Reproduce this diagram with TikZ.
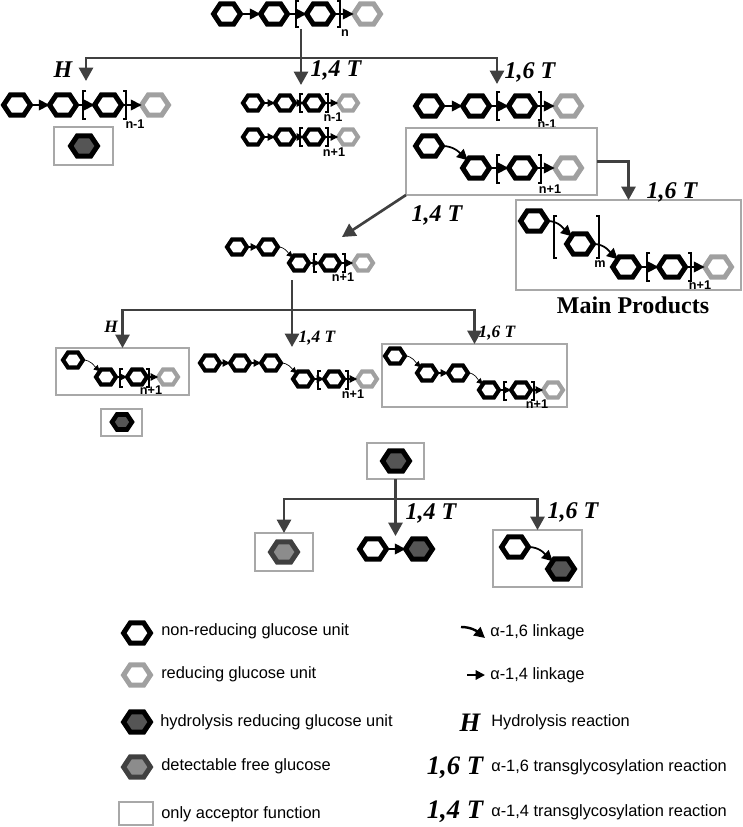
\documentclass[tikz,border=0pt]{standalone}
\usepackage{fontspec}
\setmainfont{Liberation Serif}
\setsansfont{Liberation Sans}
\usetikzlibrary{shapes.geometric,arrows.meta,fit}
\definecolor{boxgray}{HTML}{A8A8A8}
\definecolor{redgray}{HTML}{A0A0A0}
\definecolor{arrowgray}{HTML}{404040}
\definecolor{hydrofill}{HTML}{555555}
\definecolor{freefill}{HTML}{8C8C8C}
\tikzset{
  hexa/.style={regular polygon,regular polygon sides=6,transform shape,xscale=1.15,inner sep=0pt,outer sep=0pt},
  hexbig/.style={hexa,minimum size=17.5pt,line width=3.75pt},
  hexsmall/.style={hexa,minimum size=13pt,line width=3.1pt},
  glc/.style={hexbig,draw=black,fill=white},
  rglc/.style={hexbig,draw=redgray,fill=white},
  hglc/.style={hexbig,draw=black,fill=hydrofill},
  fglc/.style={hexbig,draw=arrowgray,fill=freefill},
  glcs/.style={hexsmall,draw=black,fill=white},
  rglcs/.style={hexsmall,draw=redgray,fill=white},
  link/.style={-{Triangle[length=8pt,width=8pt]},line width=1pt,black},
  links/.style={-{Triangle[length=5.5pt,width=5.5pt]},line width=.8pt,black},
  curl/.style={-{Triangle[length=8pt,width=8pt]},line width=1.3pt,black},
  curls/.style={-{Triangle[length=4.5pt,width=4.5pt]},line width=.5pt,black},
  brk/.style={line width=1.4pt,black},
  react/.style={-{Triangle[length=10pt,width=10.5pt]},line width=2pt,arrowgray},
  acc/.style={draw=boxgray,line width=2.2pt,inner sep=0pt,outer sep=0pt},
  rate/.style={font=\fontsize{18}{20}\bfseries\itshape\selectfont,inner sep=0pt},
  rates/.style={font=\fontsize{13}{15}\bfseries\itshape\selectfont,inner sep=0pt},
  ratel/.style={font=\fontsize{20}{22}\bfseries\itshape\selectfont,inner sep=0pt},
  idx/.style={font=\fontsize{9.5}{10}\sffamily\bfseries\selectfont,inner sep=0pt},
  leg/.style={font=\fontsize{12.3}{14}\sffamily\selectfont,anchor=west,inner sep=0pt}
}
\newcommand{\brkpair}[4]{
  \draw[brk] (#1+3,#3-#4) -- (#1,#3-#4) -- (#1,#3+#4) -- (#1+3,#3+#4);
  \draw[brk] (#2-3,#3-#4) -- (#2,#3-#4) -- (#2,#3+#4) -- (#2-3,#3+#4);
}
\begin{document}
\begin{tikzpicture}[x=0.75pt,y=-0.75pt]
  \useasboundingbox (0,0) rectangle (742,827);
  % start chain
  \node[glc] (t1) at (227,14) {};
  \node[glc] (t2) at (274,14) {};
  \node[glc] (t3) at (320,14) {};
  \node[rglc] (t4) at (367,14) {};
  \draw[link] (t1) -- (t2);
  \draw[link] (t2) -- (t3);
  \draw[link] (t3) -- (t4);
  \brkpair{296}{340}{14}{13}
  \node[idx] (tn) at (345,33) {n};
  \coordinate (tout) at (301,29);
  \coordinate (thub) at (301,58);
  \coordinate (tipH) at (86,81);
  \coordinate (tipA) at (301,85);
  \coordinate (tipB) at (497,84);
  \draw[react] (tout) -- (tipA);
  \draw[react] (thub) -| (tipH);
  \draw[react] (thub) -| (tipB);
  \node[rate] (rH) at (63,70) {H};
  \node[rate] (rA) at (336,70) {1,4 T};
  \node[rate] (rB) at (530,72) {1,6 T};
  % hydrolysis branch
  \node[glc] (a1) at (17,105) {};
  \node[glc] (a2) at (63,105) {};
  \node[glc] (a3) at (108,105) {};
  \node[rglc] (a4) at (155,105) {};
  \draw[link] (a1) -- (a2);
  \draw[link] (a2) -- (a3);
  \draw[link] (a3) -- (a4);
  \brkpair{83}{126}{105}{14}
  \node[idx] (an) at (135,124) {n-1};
  \node[acc,fit={(54,127)(113,165)}] (abox) {};
  \node[hglc] (ah) at (84,146) {};
  % 1,4 branch
  \node[glcs] (b1) at (253,103) {};
  \node[glcs] (b2) at (285,103) {};
  \node[glcs] (b3) at (314,103) {};
  \node[rglcs] (b4) at (348,103) {};
  \draw[links] (b1) -- (b2);
  \draw[links] (b2) -- (b3);
  \draw[links] (b3) -- (b4);
  \brkpair{300}{328}{103}{9}
  \node[idx] (bn) at (333,117) {n-1};
  \node[glcs] (c1) at (253,137) {};
  \node[glcs] (c2) at (285,137) {};
  \node[glcs] (c3) at (314,137) {};
  \node[rglcs] (c4) at (348,137) {};
  \draw[links] (c1) -- (c2);
  \draw[links] (c2) -- (c3);
  \draw[links] (c3) -- (c4);
  \brkpair{300}{328}{137}{9}
  \node[idx] (cn) at (334,152) {n+1};
  % 1,6 branch
  \node[glc] (d1) at (429,106) {};
  \node[glc] (d2) at (476,106) {};
  \node[glc] (d3) at (522,106) {};
  \node[rglc] (d4) at (568,106) {};
  \draw[link] (d1) -- (d2);
  \draw[link] (d2) -- (d3);
  \draw[link] (d3) -- (d4);
  \brkpair{497}{541}{106}{14}
  \node[idx] (dn) at (547,124) {n-1};
  \node[acc,fill=white,fit={(406,128)(597,195)}] (ebox) {};
  \node[glc] (e1) at (429,146) {};
  \node[glc] (e2) at (476,168) {};
  \node[glc] (e3) at (522,168) {};
  \node[rglc] (e4) at (568,168) {};
  \draw[curl] (e1) to[out=0,in=135] (e2);
  \draw[link] (e2) -- (e3);
  \draw[link] (e3) -- (e4);
  \brkpair{497}{541}{169}{14}
  \node[idx] (en) at (550,189) {n+1};
  % main products
  \node[acc,fit={(516,200)(741,290)}] (fbox) {};
  \draw[react] (ebox.east) -| (fbox.north);
  \node[rate] (rC) at (672,192) {1,6 T};
  \node[glc] (f1) at (534,221) {};
  \node[glc] (f2) at (580,244) {};
  \node[glc] (f3) at (626,267) {};
  \node[glc] (f4) at (672,267) {};
  \node[rglc] (f5) at (718,267) {};
  \draw[curl] (f1) to[out=0,in=135] (f2);
  \draw[curl] (f2) to[out=0,in=135] (f3);
  \draw[link] (f3) -- (f4);
  \draw[link] (f4) -- (f5);
  \brkpair{554}{599}{237}{21}
  \brkpair{647}{691}{267}{14}
  \node[idx] (fm) at (600,264) {m};
  \node[idx] (fn) at (700,285) {n+1};
  \node[font=\fontsize{18}{20}\bfseries\selectfont,inner sep=0pt] (mp) at (633,305) {Main Products};
  % second level
  \coordinate (tipG) at (342,237);
  \draw[react] (ebox.south west) -- (tipG);
  \node[rate] (rD) at (437,215) {1,4 T};
  \node[glcs] (g1) at (237,247) {};
  \node[glcs] (g2) at (268,247) {};
  \node[glcs] (g3) at (299,263) {};
  \node[glcs] (g4) at (330,263) {};
  \node[rglcs] (g5) at (363,263) {};
  \draw[links] (g1) -- (g2);
  \draw[curls] (g2) to[out=0,in=135] (g3);
  \draw[links] (g3) -- (g4);
  \draw[links] (g4) -- (g5);
  \brkpair{314}{345}{263}{9}
  \node[idx] (gn) at (343,277) {n+1};
  \node[acc,fit={(56,348)(189,395)}] (hbox) {};
  \node[acc,fit={(382,344)(567,407)}] (kbox) {};
  \coordinate (gout) at (292,280);
  \coordinate (ghub) at (292,310);
  \coordinate (tipJ) at (292,347);
  \draw[react] (gout) -- (tipJ);
  \draw[react] (ghub) -| (hbox.north);
  \draw[react] (ghub) -| (kbox.north);
  \node[rates] (rE) at (111,327) {H};
  \node[rates] (rF) at (317,338) {1,4 T};
  \node[rates] (rG) at (497,333) {1,6 T};
  \node[glcs] (h1) at (73,360) {};
  \node[glcs] (h2) at (106,377) {};
  \node[glcs] (h3) at (137,377) {};
  \node[rglcs] (h4) at (168,377) {};
  \draw[curls] (h1) to[out=0,in=135] (h2);
  \draw[links] (h2) -- (h3);
  \draw[links] (h3) -- (h4);
  \brkpair{120}{149}{378}{9}
  \node[idx] (hn) at (151,390) {n+1};
  \node[acc,fit={(101,409)(142,436)}] (ibox) {};
  \node[hglc,minimum size=13pt,line width=3.4pt] (ih) at (122,422) {};
  \node[glcs] (j1) at (210,363) {};
  \node[glcs] (j2) at (240,363) {};
  \node[glcs] (j3) at (271,363) {};
  \node[glcs] (j4) at (303,379) {};
  \node[glcs] (j5) at (334,379) {};
  \node[rglcs] (j6) at (367,379) {};
  \draw[links] (j1) -- (j2);
  \draw[links] (j2) -- (j3);
  \draw[curls] (j3) to[out=0,in=135] (j4);
  \draw[links] (j4) -- (j5);
  \draw[links] (j5) -- (j6);
  \brkpair{318}{348}{380}{9}
  \node[idx] (jn) at (353,394) {n+1};
  \node[glcs] (k1) at (395,356) {};
  \node[glcs] (k2) at (427,373) {};
  \node[glcs] (k3) at (458,373) {};
  \node[glcs] (k4) at (489,390) {};
  \node[glcs] (k5) at (521,390) {};
  \node[rglcs] (k6) at (553,390) {};
  \draw[curls] (k1) to[out=0,in=135] (k2);
  \draw[links] (k2) -- (k3);
  \draw[curls] (k3) to[out=0,in=135] (k4);
  \draw[links] (k4) -- (k5);
  \draw[links] (k5) -- (k6);
  \brkpair{504}{534}{391}{9}
  \node[idx] (kn) at (537,404) {n+1};
  % free glucose
  \node[acc,fit={(367,443)(424,479)}] (mbox) {};
  \node[hglc] (mh) at (396,461) {};
  \node[acc,fit={(255,533)(313,571)}] (nbox) {};
  \node[acc,fit={(493,530)(582,587)}] (pbox) {};
  \coordinate (mhub) at (395.5,499);
  \coordinate (tipO) at (395.5,536);
  \draw[react] (mbox.south) -- (tipO);
  \draw[react] (mhub) -| (nbox.north);
  \draw[react] (mhub) -| (pbox.north);
  \node[rate] (rH2) at (431,513) {1,4 T};
  \node[rate] (rJ) at (573,512) {1,6 T};
  \node[fglc] (nf) at (284,552) {};
  \node[glc] (o1) at (373,549) {};
  \node[hglc] (o2) at (419,549) {};
  \draw[link] (o1) -- (o2);
  \node[glc] (p1) at (515,547) {};
  \node[hglc] (p2) at (561,569) {};
  \draw[curl] (p1) to[out=0,in=135] (p2);
  % legend
  \node[glc] (l1) at (137,633) {};
  \node[leg] (l1t) at (161,631) {non-reducing glucose unit};
  \node[rglc] (l2) at (137,675) {};
  \node[leg] (l2t) at (161,674) {reducing glucose unit};
  \node[hglc] (l3) at (137,722) {};
  \node[leg] (l3t) at (160,722) {hydrolysis reducing glucose unit};
  \node[fglc] (l4) at (137,767) {};
  \node[leg] (l4t) at (161,766) {detectable free glucose};
  \node[acc,fit={(119,802)(153,825)}] (l5) {};
  \node[leg] (l5t) at (161,814) {only acceptor function};
  \coordinate (q1a) at (461,627);
  \coordinate (q1b) at (485,638);
  \draw[-{Triangle[length=8pt,width=8pt]},line width=1.8pt] (q1a) to[out=0,in=140] (q1b);
  \node[leg] (q1t) at (490,632) {α-1,6 linkage};
  \coordinate (q2a) at (467,675);
  \coordinate (q2b) at (485,675);
  \draw[-{Triangle[length=7pt,width=7pt]},line width=1.5pt] (q2a) -- (q2b);
  \node[leg] (q2t) at (490,675) {α-1,4 linkage};
  \node[ratel] (q3) at (470,723) {H};
  \node[leg] (q3t) at (491,722) {Hydrolysis reaction};
  \node[ratel] (q4) at (455,768) {1,6 T};
  \node[leg] (q4t) at (491,767) {α-1,6 transglycosylation reaction};
  \node[ratel] (q5) at (455,812) {1,4 T};
  \node[leg] (q5t) at (491,812) {α-1,4 transglycosylation reaction};
\end{tikzpicture}
\end{document}
